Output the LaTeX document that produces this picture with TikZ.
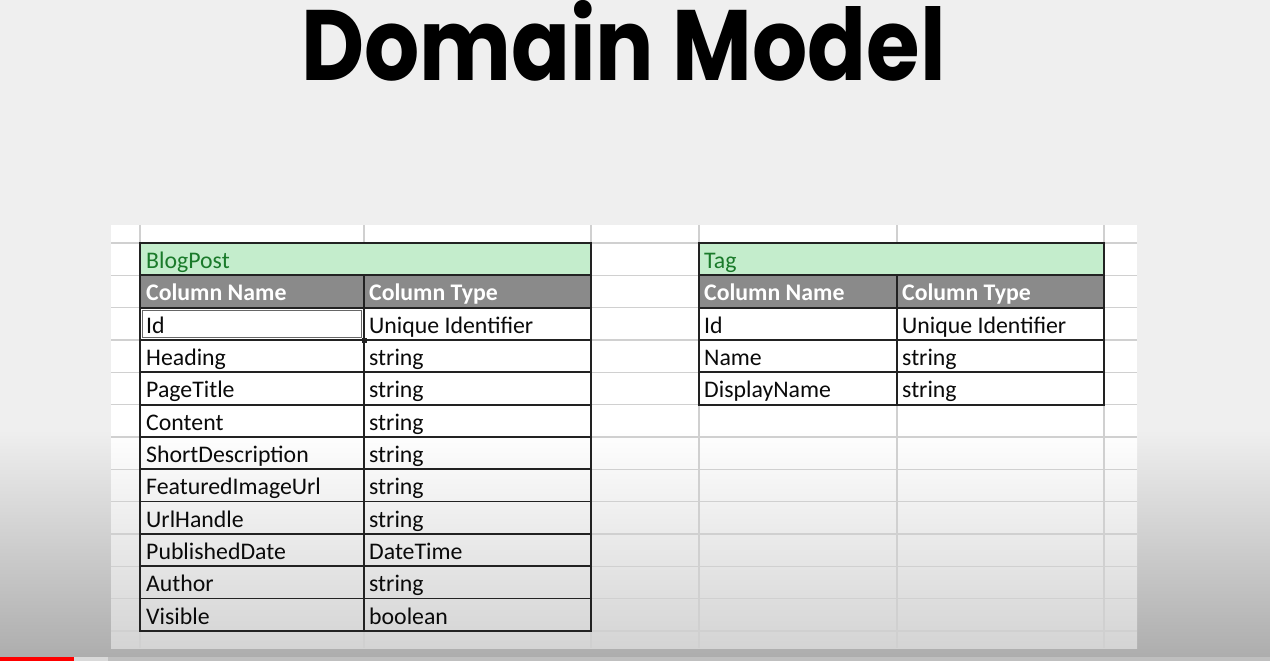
\documentclass[tikz,border=0pt]{standalone}
\usepackage{fontspec}
\setmainfont{Carlito}
\newfontfamily\titlefont{Poppins}
\usetikzlibrary{calc}
\definecolor{bgtop}{HTML}{EFEFEF}
\definecolor{bgbot}{HTML}{ACACAC}
\definecolor{sheetbot}{HTML}{D4D4D4}
\definecolor{gridc}{HTML}{D0D0D0}
\definecolor{goodfill}{HTML}{C4EDCC}
\definecolor{goodtext}{HTML}{1A7A2A}
\definecolor{headfill}{HTML}{8A8A8A}
\definecolor{bordc}{HTML}{222222}
\definecolor{txtc}{HTML}{0A0A0A}
\definecolor{ytred}{HTML}{FF0000}
\tikzset{
  gridline/.style={draw=gridc, line width=1.3pt},
  tbl/.style={draw=bordc, line width=1.7pt},
  cell/.style={anchor=base west, inner sep=0pt, font=\fontsize{23.8}{26}\selectfont, text=txtc},
  headcell/.style={cell, font=\fontsize{23.8}{26}\selectfont\bfseries, text=white},
  titlecell/.style={cell, text=goodtext},
}
\begin{document}
\begin{tikzpicture}[x=1pt,y=-1pt]
\useasboundingbox (0,0) rectangle (1270,661);
% background
\fill[bgtop] (0,0) rectangle (1270,430);
\shade[top color=bgtop, bottom color=bgbot] (0,430) rectangle (1270,661);
% sheet
\fill[white] (111,225) rectangle (1137,432);
\shade[top color=white, bottom color=sheetbot] (111,430) rectangle (1137,648);
\foreach \gx in {140,364,591,699,897,1104}
  \draw[gridline] (\gx,225) -- (\gx,648);
\foreach \k in {0,...,12}
  \draw[gridline] (111,{243+32.33*\k}) -- (1137,{243+32.33*\k});
% progress bar
\fill[black!25] (0,657) rectangle (1270,661);
\fill[white!85!black] (74,657) rectangle (108,661);
\fill[ytred] (0,657) rectangle (74,661);
% title
\node[anchor=base, inner sep=0pt, xscale=0.868, font=\titlefont\bfseries\fontsize{100}{110}\selectfont] (title) at (623.5,81) {Domain Model};

% ---------- BlogPost table ----------
\draw[tbl, fill=goodfill] (140,243) rectangle (591,275.33);
\node[titlecell] (bp-title) at (146,268) {BlogPost};
\draw[tbl, fill=headfill] (140,275.33) rectangle (364,307.66);
\draw[tbl, fill=headfill] (364,275.33) rectangle (591,307.66);
\node[headcell] (bp-hn) at (146,300.7) {Column Name};
\node[headcell] (bp-ht) at (369,300.7) {Column Type};
\foreach \cn/\ct [count=\i] in {Id/Unique Identifier, Heading/string, PageTitle/string, Content/string, ShortDescription/string, FeaturedImageUrl/string, UrlHandle/string, PublishedDate/DateTime, Author/string, Visible/boolean}{
  \draw[tbl] (140,{275.33+32.33*\i}) rectangle (364,{307.66+32.33*\i});
  \draw[tbl] (364,{275.33+32.33*\i}) rectangle (591,{307.66+32.33*\i});
  \node[cell] (bp-n\i) at (146,{300.7+32.33*\i}) {\cn};
  \node[cell] (bp-t\i) at (369,{300.7+32.33*\i}) {\ct};
}
% selection of the Id cell
\draw[draw=black!60, line width=1pt] (142.4,310.1) rectangle (361.6,337.7);
\fill[bordc] (361.5,337.5) rectangle (366.5,342.5);

% ---------- Tag table ----------
\draw[tbl, fill=goodfill] (699,243) rectangle (1104,275.33);
\node[titlecell] (tag-title) at (704,268) {Tag};
\draw[tbl, fill=headfill] (699,275.33) rectangle (897,307.66);
\draw[tbl, fill=headfill] (897,275.33) rectangle (1104,307.66);
\node[headcell] (tag-hn) at (704,300.7) {Column Name};
\node[headcell] (tag-ht) at (902,300.7) {Column Type};
\foreach \cn/\ct [count=\i] in {Id/Unique Identifier, Name/string, DisplayName/string}{
  \draw[tbl] (699,{275.33+32.33*\i}) rectangle (897,{307.66+32.33*\i});
  \draw[tbl] (897,{275.33+32.33*\i}) rectangle (1104,{307.66+32.33*\i});
  \node[cell] (tag-n\i) at (704,{300.7+32.33*\i}) {\cn};
  \node[cell] (tag-t\i) at (902,{300.7+32.33*\i}) {\ct};
}
\end{tikzpicture}
\end{document}
